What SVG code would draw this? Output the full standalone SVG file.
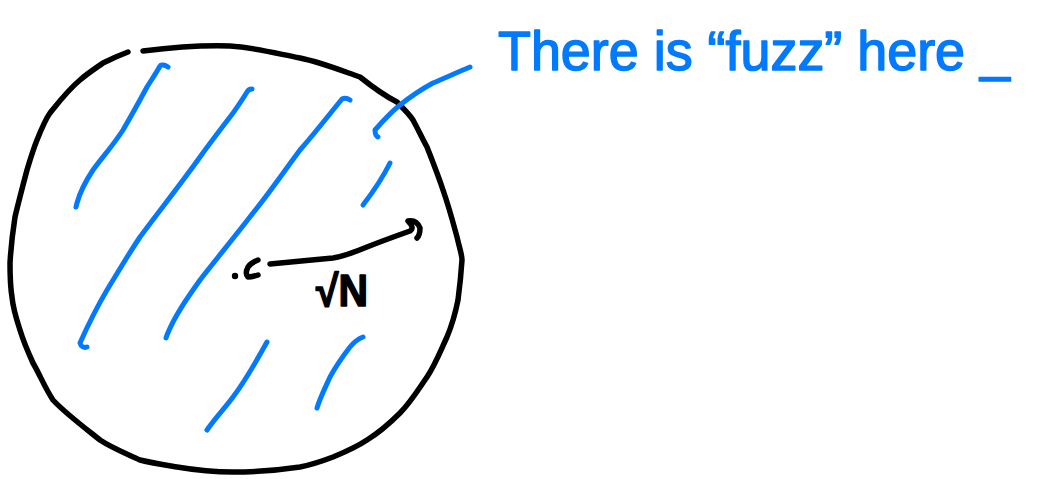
<svg xmlns="http://www.w3.org/2000/svg" width="1043" height="479" viewBox="0 0 1043 479">
<style>
.ink{fill:none;stroke:#000;stroke-width:5.5;stroke-linecap:round;stroke-linejoin:round}
.blue{fill:none;stroke:#007AFF;stroke-width:5;stroke-linecap:round;stroke-linejoin:round}
.lbl{font-family:"Liberation Sans","DejaVu Sans",sans-serif;fill:#007AFF;stroke:#007AFF;stroke-width:1.5;stroke-linejoin:round}
.math{font-family:"Liberation Sans","DejaVu Sans",sans-serif;font-weight:bold;fill:#000;stroke:#000;stroke-width:1.5;stroke-linejoin:round}
</style>
<rect width="1043" height="479" fill="#fff"/>
<g id="circle">
<path class="ink" d="M143,51 C175,47 200,45 230,46 C250,47 270,52 300,58 C320,62 340,70 360,77 C370,85 385,96 397,102 C405,110 410,115 413,120 C420,133 423,140 427,147 C432,160 438,175 443,190 C450,210 455,230 457,237 C460,250 462,255 462,260 C461,275 460,285 458,300 C455,315 452,325 447,337 C440,352 435,365 427,377 C418,390 410,403 400,413 C390,423 380,432 367,440 C355,448 345,452 333,457 C320,462 310,465 300,467 C280,470 255,472 233,472 C210,472 195,470 177,467 C165,465 152,463 140,460 C125,453 112,448 100,440 C85,428 65,413 53,400 C45,388 40,375 33,363 C28,352 23,340 20,330 C16,318 13,308 12,297 C10,285 10,275 10,263 C11,245 13,230 15,217 C19,200 23,185 27,170 C30,160 33,150 37,140 C41,130 45,120 50,113 C58,103 68,90 80,80 C88,73 96,68 103,63 C111,59 120,55 128,52"/>
</g>
<g id="hatch">
<path class="blue" d="M168,67 C165,65 161,64 160,66 C155,75 150,82 147,87 C140,100 130,118 123,130 C112,147 100,160 93,170 C85,182 80,192 77,203 L76,207"/>
<path class="blue" d="M252,89 C249,89 248,90 247,92 C242,100 237,108 230,117 C220,130 210,143 200,157 C180,185 160,210 140,237 C128,255 118,272 107,290 C97,307 88,325 80,343 C81,347 84,348 87,347"/>
<path class="blue" d="M350,100 C347,98 344,98 342,99 C328,116 315,133 300,150 C285,170 270,192 253,213 C236,235 218,257 200,280 C188,297 175,315 167,335 L166,338"/>
<path class="blue" d="M390,163 C383,177 373,192 363,205"/>
<path class="blue" d="M267,342 C257,360 246,380 233,397 C225,408 215,418 207,430"/>
<path class="blue" d="M363,337 C358,339 354,342 350,347 C343,356 336,366 330,377 C325,388 320,398 317,408"/>
</g>
<g id="connectors">
<path class="blue" d="M470,67 C458,72 447,77 433,83 C420,90 410,97 400,105 C390,113 382,122 375,130 C375,134 376,136 378,137"/>
</g>
<g id="radius">
<circle cx="235" cy="276" r="3.2" fill="#000"/>
<path class="ink" d="M258,260 C253,262 250,264 248,267 C246,271 246,275 248,277 C251,277 255,276 258,275"/>
<path class="ink" d="M270,264 C290,262 312,260 333,258 C345,256 355,252 367,247 C382,241 396,236 410,231 C413,229 413,226 408,221 C414,220 418,223 420,228 C420,233 419,236 417,238"/>
</g>
<g id="sqrtN">
<text class="math" x="316" y="306" font-size="44" textLength="52" lengthAdjust="spacingAndGlyphs">√N</text>
</g>
<g id="note">
<text class="lbl" x="498" y="70" font-size="56" textLength="512" lengthAdjust="spacingAndGlyphs">There is “fuzz” here _</text>
</g>
</svg>
